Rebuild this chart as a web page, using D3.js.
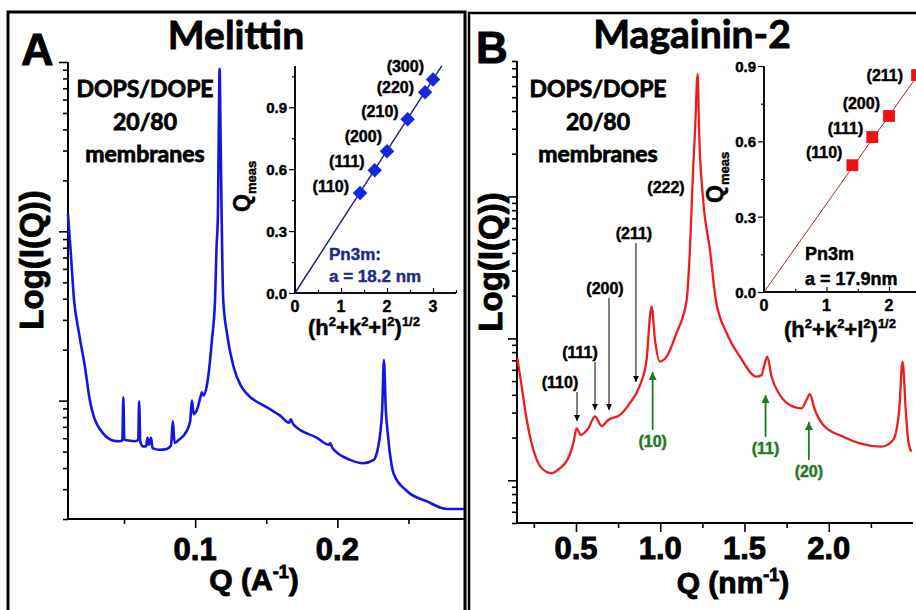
<!DOCTYPE html>
<html><head><meta charset="utf-8">
<script src="https://cdn.jsdelivr.net/npm/d3@7"></script>
<style>
html,body{margin:0;padding:0;background:#fff;}
svg{display:block;}
text{font-family:"Liberation Sans",Arial,sans-serif;font-weight:bold;fill:#000;stroke:#000;stroke-width:0.45px;paint-order:stroke;}
.cal{font-family:Lato,"Open Sans",sans-serif;font-weight:bold;stroke-width:0.8px;}
.big{stroke-width:0.9px;}
</style></head><body>
<svg id="chart" width="916" height="610"></svg>
<script>
// ---------------- DATA ----------------
// Panel A: Melittin, Q in 1/Angstrom, log10 intensity (arb.)
const melittinQ = [0.0106,0.0125,0.0148,0.0183,0.0225,0.026,0.029,0.031,0.035,0.042,0.047,0.0488,0.0495,0.0502,0.053,0.0577,0.060,0.0606,0.0614,0.0634,0.0655,0.0665,0.0675,0.069,0.070,0.075,0.080,0.083,0.0843,0.0855,0.088,0.094,0.0965,0.0977,0.099,0.101,0.104,0.1047,0.106,0.108,0.110,0.1118,0.114,0.115,0.116,0.1166,0.1172,0.1178,0.1186,0.1197,0.1223,0.127,0.132,0.1364,0.1505,0.160,0.166,0.1672,0.169,0.1857,0.194,0.195,0.1965,0.209,0.218,0.2255,0.2285,0.230,0.2315,0.2327,0.234,0.2355,0.2397,0.249,0.263,0.277,0.289];
const melittinLogI = [1.10,0.88,0.60,0.40,0.20,0.00,-0.10,-0.14,-0.19,-0.235,-0.24,-0.235,0.02,-0.23,-0.235,-0.24,-0.23,-0.005,-0.24,-0.27,-0.27,-0.22,-0.26,-0.22,-0.28,-0.29,-0.285,-0.265,-0.12,-0.25,-0.235,-0.18,-0.12,0.00,-0.08,-0.06,0.03,0.05,0.03,0.08,0.20,0.36,0.60,0.90,1.10,1.60,1.96,1.60,1.10,0.60,0.40,0.20,0.09,0.04,-0.04,-0.09,-0.13,-0.11,-0.14,-0.22,-0.26,-0.25,-0.28,-0.35,-0.37,-0.35,-0.28,-0.20,-0.05,0.24,-0.05,-0.20,-0.435,-0.535,-0.595,-0.64,-0.64];

// Panel B: Magainin-2, Q in 1/nm, log10 intensity (arb.)
const magaininQ = [0.152,0.178,0.208,0.247,0.297,0.356,0.405,0.454,0.484,0.504,0.528,0.573,0.613,0.652,0.692,0.761,0.82,0.88,0.919,0.939,0.949,0.969,0.998,1.038,1.097,1.157,1.176,1.196,1.206,1.222,1.231,1.255,1.295,1.33,1.394,1.473,1.572,1.601,1.621,1.635,1.661,1.71,1.789,1.839,1.868,1.888,1.918,1.967,2.086,2.184,2.313,2.382,2.418,2.438,2.457,2.471,2.49];
const magaininLogI = [-0.14,-0.34,-0.575,-0.785,-0.915,-0.95,-0.915,-0.845,-0.74,-0.634,-0.68,-0.634,-0.55,-0.617,-0.575,-0.54,-0.457,-0.33,-0.152,0.153,0.223,-0.011,-0.164,-0.129,0.038,0.27,0.623,1.21,1.447,1.863,1.447,0.975,0.623,0.27,0.038,-0.129,-0.27,-0.258,-0.175,-0.129,-0.27,-0.399,-0.481,-0.493,-0.434,-0.394,-0.505,-0.61,-0.693,-0.74,-0.763,-0.716,-0.505,-0.164,-0.505,-0.716,-0.798];

// Insets: indexing plots
const millerA = ["(110)","(111)","(200)","(210)","(220)","(300)"];
const hklA = [1.414,1.732,2.0,2.449,2.828,3.0];
const qMeasA = [0.484,0.595,0.687,0.842,0.973,1.035];
const fitA_x = [0, 3.19];
const fitA_y = [0, 1.101];

const millerB = ["(110)","(111)","(200)","(211)"];
const hklB = [1.414,1.732,2.0,2.449];
const qMeasB = [0.505,0.617,0.701,0.864];
const fitB_x = [0, 2.564];
const fitB_y = [0, 0.9];

// Tick labels
const xTicksA = [0.1, 0.2];
const xTickLabelsA = ["0.1","0.2"];
const xMinorA = [0.05, 0.15, 0.25];
const xTicksB = [0.5, 1.0, 1.5, 2.0];
const xTickLabelsB = ["0.5","1.0","1.5","2.0"];
const xMinorB = [0.25, 0.75, 1.25, 1.75, 2.25];
const insetXTicksA = [0,1,2,3];
const insetXTicksB = [0,1,2];
const insetYTicks = [0.0, 0.3, 0.6, 0.9];

// Panel B peak annotations (Pn3m cubic: black, down arrows; hexagonal: green, up arrows)
const cubicLabels = ["(110)","(111)","(200)","(211)"];
const cubicQ = [0.506, 0.613, 0.696, 0.856];
const cubicFromLogI = [-0.378, -0.166, 0.285, 0.672];
const cubicToLogI = [-0.582, -0.505, -0.505, -0.307];
const hexLabels = ["(10)","(11)","(20)"];
const hexQ = [0.955, 1.625, 1.882];
const hexFromLogI = [-0.645, -0.694, -0.856];
const hexToLogI = [-0.237, -0.399, -0.589];

// ---------------- LAYOUT / STYLE ----------------
const labelOffA = [[-11,-1],[-10,-3],[-5,-9],[-9,-2],[-11,1],[-9,-7]];
const labelOffB = [[-10,-7],[-9,-3],[-9,-7],[-14,6]];
const cubicLabelDx = [-17,-15,-4,-2];

const svg = d3.select("#chart");
const defs = svg.append("defs");
function marker(id, color, w, h){
  defs.append("marker").attr("id", id).attr("viewBox","0 0 10 10")
    .attr("refX",10).attr("refY",5).attr("markerUnits","userSpaceOnUse")
    .attr("markerWidth", w).attr("markerHeight", h).attr("orient","auto")
    .append("path").attr("d","M0,0 L10,5 L0,10 Z").attr("fill", color);
}
marker("arrK","#000",7,6);
marker("arrG","#1e7a1e",10,8);

function rich(sel, parts, supSize, shift){
  let cur = 0;
  parts.forEach(p=>{
    const target = p.sup ? -shift : (p.sub ? shift : 0);
    const t = sel.append("tspan").attr("dy", target-cur).text(p.t);
    if (p.sup || p.sub) t.attr("font-size", supSize);
    cur = target;
  });
}

// Frames
svg.append("path").attr("d","M8,614 V12 H465 V614").attr("fill","none").attr("stroke","#000").attr("stroke-width",3);
svg.append("path").attr("d","M469,614 V13 H920").attr("fill","none").attr("stroke","#000").attr("stroke-width",2.5);

function logAxis(g, y, x0, majors){
  const all = y.ticks().filter(v=>v>=y.domain()[0]-1e-9 && v<=y.domain()[1]+1e-9);
  const isMajor = v => Math.abs(Math.log10(v)-Math.round(Math.log10(v)))<1e-6;
  const minors = all.filter(v=>!isMajor(v));
  const gm = g.append("g").attr("transform",`translate(${x0},0)`)
    .call(d3.axisLeft(y).tickValues(minors).tickSize(5).tickFormat(""));
  const gM = g.append("g").attr("transform",`translate(${x0},0)`)
    .call(d3.axisLeft(y).tickValues(majors).tickSize(9).tickFormat(""));
  [gm,gM].forEach(a=>{a.selectAll("line").attr("stroke","#000").attr("stroke-width",1.6);
    a.select(".domain").attr("stroke","#000").attr("stroke-width",2).attr("d",`M0,${y.range()[0]}V${y.range()[1]}`);});
}
function linAxisBottom(g, x, y0, majors, minors, labels, fs, base){
  const a1 = g.append("g").attr("transform",`translate(0,${y0})`)
    .call(d3.axisBottom(x).tickValues(minors).tickSize(5).tickFormat(""));
  const a2 = g.append("g").attr("transform",`translate(0,${y0})`)
    .call(d3.axisBottom(x).tickValues(majors).tickSize(9).tickFormat(""));
  [a1,a2].forEach(a=>{a.selectAll("line").attr("stroke","#000").attr("stroke-width",1.6);
    a.select(".domain").attr("stroke","#000").attr("stroke-width",2).attr("d",`M${x.range()[0]},0H${x.range()[1]}`);});
  g.selectAll(null).data(majors).enter().append("text").attr("class","big")
    .attr("x", d=>x(d)).attr("y", base).attr("text-anchor","middle")
    .attr("font-size", fs).text((d,i)=>labels[i]);
}

// ---------------- PANEL A ----------------
const gA = svg.append("g");
const xA = d3.scaleLinear().domain([0.0106, 0.289]).range([68, 464]);
const yA = d3.scaleLog().domain([0.2, 100]).range([519, 62]);
logAxis(gA, yA, 68, [1,10,100]);
linAxisBottom(gA, xA, 519, xTicksA, xMinorA, xTickLabelsA, 31, 560);
gA.append("path").datum(melittinQ.map((q,i)=>[q, Math.pow(10, melittinLogI[i])]))
  .attr("d", d3.line().x(d=>xA(d[0])).y(d=>yA(d[1])).curve(d3.curveMonotoneX))
  .attr("fill","none").attr("stroke","#1515e0").attr("stroke-width",2.6).attr("stroke-linejoin","round");

gA.append("text").attr("class","big").attr("x",21).attr("y",65).attr("font-size",45).text("A");
gA.append("text").attr("class","cal").attr("x",236).attr("y",49).attr("text-anchor","middle").attr("font-size",39).text("Melittin");
["DOPS/DOPE","20/80","membranes"].forEach((t,i)=>{
  gA.append("text").attr("class","cal").attr("x",145).attr("y",97+i*32.5).attr("text-anchor","middle").attr("font-size",23).text(t);
});
gA.append("text").attr("class","big").attr("transform","translate(43,260) rotate(-90)").attr("text-anchor","middle").attr("font-size",33).text("Log(I(Q))");
const xtA = gA.append("text").attr("class","big").attr("x",254).attr("y",590).attr("text-anchor","middle").attr("font-size",30);
rich(xtA,[{t:"Q (A"},{t:"-1",sup:true},{t:")"}],18,12);

// Inset A
const xiA = d3.scaleLinear().domain([0,3.5]).range([295,456]);
const yiA = d3.scaleLinear().domain([0,1.1]).range([293,66]);
function insetAxes(g, xi, yi, xMaj, xMin, yMaj, yMin, xLabBase){
  const ax = g.append("g").attr("transform",`translate(0,${yi.range()[0]})`);
  ax.call(d3.axisTop(xi).tickValues(xMin).tickSize(3).tickFormat(""));
  const ax2 = g.append("g").attr("transform",`translate(0,${yi.range()[0]})`).call(d3.axisTop(xi).tickValues(xMaj).tickSize(5).tickFormat(""));
  const ay = g.append("g").attr("transform",`translate(${xi.range()[0]},0)`).call(d3.axisLeft(yi).tickValues(yMin).tickSize(3).tickFormat(""));
  const ay2 = g.append("g").attr("transform",`translate(${xi.range()[0]},0)`).call(d3.axisLeft(yi).tickValues(yMaj).tickSize(6).tickFormat(""));
  [ax,ax2].forEach(a=>{a.selectAll("line").attr("stroke","#000").attr("stroke-width",1.2);
    a.select(".domain").attr("stroke","#000").attr("stroke-width",1.5).attr("d",`M${xi.range()[0]},0H${xi.range()[1]}`);});
  [ay,ay2].forEach(a=>{a.selectAll("line").attr("stroke","#000").attr("stroke-width",1.2);
    a.select(".domain").attr("stroke","#000").attr("stroke-width",1.5).attr("d",`M0,${yi.range()[0]}V${yi.range()[1]}`);});
  g.selectAll(null).data(xMaj).enter().append("text").attr("x",d=>xi(d)).attr("y",xLabBase)
    .attr("text-anchor","middle").attr("font-size",16).text(d=>d3.format("d")(d));
  g.selectAll(null).data(yMaj).enter().append("text").attr("x",xi.range()[0]-8).attr("y",d=>yi(d)+6)
    .attr("text-anchor","end").attr("font-size",15).text(d=>d3.format(".1f")(d));
}
const giA = svg.append("g");
insetAxes(giA, xiA, yiA, insetXTicksA, [0.5,1.5,2.5,3.5], insetYTicks, [0.15,0.45,0.75,1.05], 312);
giA.append("line").attr("x1",xiA(fitA_x[0])).attr("y1",yiA(fitA_y[0])).attr("x2",xiA(fitA_x[1])).attr("y2",yiA(fitA_y[1]))
  .attr("stroke","#1c1c80").attr("stroke-width",1.4);
giA.selectAll(null).data(hklA).enter().append("path")
  .attr("d", d3.symbol(d3.symbolSquare, 105)())
  .attr("transform",(d,i)=>`translate(${xiA(d)},${yiA(qMeasA[i])}) rotate(45)`)
  .attr("fill","#1428dc");
giA.selectAll(null).data(millerA).enter().append("text")
  .attr("x",(d,i)=>xiA(hklA[i])+labelOffA[i][0]).attr("y",(d,i)=>yiA(qMeasA[i])+labelOffA[i][1])
  .attr("text-anchor","end").attr("font-size",16).text(d=>d);
giA.append("text").attr("x",329).attr("y",260).attr("font-size",17).style("fill","#1f2b8c").style("stroke","#1f2b8c").text("Pn3m:");
giA.append("text").attr("x",329).attr("y",282).attr("font-size",17).style("fill","#1f2b8c").style("stroke","#1f2b8c").text("a = 18.2 nm");
const qmA = giA.append("text").attr("transform","translate(250,212) rotate(-90)").attr("font-size",23);
rich(qmA,[{t:"Q"},{t:"meas",sub:true}],13,6);
const hxA = giA.append("text").attr("x",364).attr("y",335).attr("text-anchor","middle").attr("font-size",22);
rich(hxA,[{t:"(h"},{t:"2",sup:true},{t:"+k"},{t:"2",sup:true},{t:"+l"},{t:"2",sup:true},{t:")"},{t:"1/2",sup:true}],13,9);

// ---------------- PANEL B ----------------
const gB = svg.append("g");
const xB = d3.scaleLinear().domain([0.15, 2.5]).range([517, 913]);
const yB = d3.scaleLog().domain([0.05, 90]).range([523, 61]);
logAxis(gB, yB, 517, [0.1,1,10]);
linAxisBottom(gB, xB, 523, xTicksB, xMinorB, xTickLabelsB, 31, 559);
gB.append("path").datum(magaininQ.map((q,i)=>[q, Math.pow(10, magaininLogI[i])]))
  .attr("d", d3.line().x(d=>xB(d[0])).y(d=>yB(d[1])).curve(d3.curveMonotoneX))
  .attr("fill","none").attr("stroke","#ee1c1c").attr("stroke-width",2.3).attr("stroke-linejoin","round");

gB.append("text").attr("class","big").attr("x",476).attr("y",63).attr("font-size",44).text("B");
gB.append("text").attr("class","cal").attr("x",692).attr("y",48).attr("text-anchor","middle").attr("font-size",39).text("Magainin-2");
["DOPS/DOPE","20/80","membranes"].forEach((t,i)=>{
  gB.append("text").attr("class","cal").attr("x",598).attr("y",97+i*32.5).attr("text-anchor","middle").attr("font-size",23).text(t);
});
gB.append("text").attr("class","big").attr("transform","translate(502,262) rotate(-90)").attr("text-anchor","middle").attr("font-size",33).text("Log(I(Q))");
const xtB = gB.append("text").attr("class","big").attr("x",733).attr("y",593).attr("text-anchor","middle").attr("font-size",30);
rich(xtB,[{t:"Q (nm"},{t:"-1",sup:true},{t:")"}],18,12);

// cubic annotations
cubicLabels.forEach((lab,i)=>{
  const x = xB(cubicQ[i]);
  gB.append("line").attr("x1",x).attr("x2",x)
    .attr("y1",yB(Math.pow(10,cubicFromLogI[i]))).attr("y2",yB(Math.pow(10,cubicToLogI[i])))
    .attr("stroke","#000").attr("stroke-width",1).attr("marker-end","url(#arrK)");
  gB.append("text").attr("x",x+cubicLabelDx[i]).attr("y",yB(Math.pow(10,cubicFromLogI[i]))-4)
    .attr("text-anchor","middle").attr("font-size",16).text(lab);
});
gB.append("text").attr("x",666).attr("y",193).attr("text-anchor","middle").attr("font-size",16).text("(222)");
hexLabels.forEach((lab,i)=>{
  const x = xB(hexQ[i]);
  gB.append("line").attr("x1",x).attr("x2",x)
    .attr("y1",yB(Math.pow(10,hexFromLogI[i]))).attr("y2",yB(Math.pow(10,hexToLogI[i])))
    .attr("stroke","#1e7a1e").attr("stroke-width",1.8).attr("marker-end","url(#arrG)");
  gB.append("text").attr("x",x).attr("y",yB(Math.pow(10,hexFromLogI[i]))+17)
    .attr("text-anchor","middle").attr("font-size",16).style("fill","#1e7a1e").style("stroke","#1e7a1e").text(lab);
});

// Inset B
const xiB = d3.scaleLinear().domain([0,2.6]).range([764,926.5]);
const yiB = d3.scaleLinear().domain([0,0.9]).range([292,66]);
const giB = svg.append("g");
insetAxes(giB, xiB, yiB, insetXTicksB, [0.5,1.5,2.5], insetYTicks, [0.15,0.45,0.75], 311);
giB.append("line").attr("x1",xiB(fitB_x[0])).attr("y1",yiB(fitB_y[0])).attr("x2",xiB(fitB_x[1])).attr("y2",yiB(fitB_y[1]))
  .attr("stroke","#a0302a").attr("stroke-width",1);
giB.selectAll(null).data(hklB).enter().append("path")
  .attr("d", d3.symbol(d3.symbolSquare, 140)())
  .attr("transform",(d,i)=>`translate(${xiB(d)},${yiB(qMeasB[i])})`)
  .attr("fill","#f01010");
giB.selectAll(null).data(millerB).enter().append("text")
  .attr("x",(d,i)=>xiB(hklB[i])+labelOffB[i][0]).attr("y",(d,i)=>yiB(qMeasB[i])+labelOffB[i][1])
  .attr("text-anchor","end").attr("font-size",16).text(d=>d);
giB.append("text").attr("x",805).attr("y",260).attr("font-size",18).text("Pn3m");
giB.append("text").attr("x",805).attr("y",285).attr("font-size",18).text("a = 17.9nm");
const qmB = giB.append("text").attr("transform","translate(723,203) rotate(-90)").attr("font-size",23);
rich(qmB,[{t:"Q"},{t:"meas",sub:true}],13,6);
const hxB = giB.append("text").attr("x",840).attr("y",337).attr("text-anchor","middle").attr("font-size",22);
rich(hxB,[{t:"(h"},{t:"2",sup:true},{t:"+k"},{t:"2",sup:true},{t:"+l"},{t:"2",sup:true},{t:")"},{t:"1/2",sup:true}],13,9);
</script>
</body></html>
